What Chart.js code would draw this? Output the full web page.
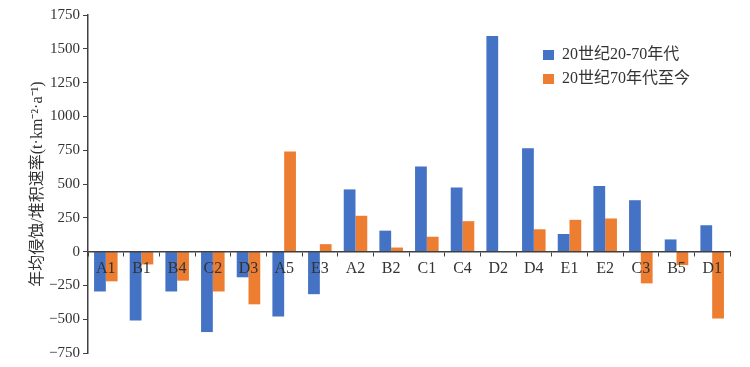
<!DOCTYPE html>
<html>
<head>
<meta charset="utf-8">
<script src="https://cdn.jsdelivr.net/npm/chart.js@4"></script>
<style>
  html, body { margin: 0; padding: 0; background: #fff; }
  #wrap { width: 750px; height: 367px; }
</style>
</head>
<body>
<div id="wrap"><canvas id="rateChart" width="750" height="367"></canvas></div>
<script>
// Sites along the x axis
const sites = ['A1', 'B1', 'B4', 'C2', 'D3', 'A5', 'E3', 'A2', 'B2', 'C1', 'C4', 'D2', 'D4', 'E1', 'E2', 'C3', 'B5', 'D1'];

// Mean annual erosion / deposition rate, t·km^-2·a^-1
const period1920s70s = [-295, -510, -295, -595, -190, -480, -315, 460, 155, 630, 475, 1595, 765, 130, 485, 380, 90, 195];
const period70sNow = [-220, -95, -215, -295, -390, 740, 55, 265, 30, 110, 225, 0, 165, 235, 245, -235, -100, -495];

const seriesNames = ['20世纪20-70年代', '20世纪70年代至今'];
const yTicks = { min: -750, max: 1750, step: 250 };

const serif = "'Liberation Serif', 'Times New Roman', 'Noto Sans CJK SC', serif";
const textColor = '#333333';
const axisColor = '#404040';

// legend drawn inside the plot, top right
const insideLegend = {
    id: 'insideLegend',
    afterDraw(chart) {
        const ctx = chart.ctx;
        ctx.save();
        ctx.font = '16px ' + serif;
        ctx.textBaseline = 'middle';
        chart.data.datasets.forEach((ds, i) => {
            const y = 55 + i * 24;
            ctx.fillStyle = ds.backgroundColor;
            ctx.fillRect(543, y - 5, 11, 10);
            ctx.fillStyle = textColor;
            ctx.fillText(ds.label, 562, y);
        });
        ctx.restore();
    }
};

const ctx = document.getElementById('rateChart').getContext('2d');
new Chart(ctx, {
    type: 'bar',
    data: {
        labels: sites,
        datasets: [{
            label: seriesNames[0],
            data: period1920s70s,
            backgroundColor: '#4472C4'
        }, {
            label: seriesNames[1],
            data: period70sNow,
            backgroundColor: '#ED7D31'
        }]
    },
    options: {
        responsive: false,
        animation: false,
        categoryPercentage: 0.66,
        barPercentage: 1.0,
        layout: {
            padding: { top: 15, right: 20, bottom: 14, left: 0 }
        },
        plugins: {
            legend: { display: false },
            tooltip: { enabled: false }
        },
        scales: {
            x: {
                position: { y: 0 },
                grid: {
                    offset: true,
                    drawOnChartArea: false,
                    tickLength: 4,
                    color: axisColor,
                    z: 1
                },
                border: { color: axisColor, width: 1.5, z: 1 },
                ticks: {
                    z: 1, // labels sit on top of the bars
                    color: textColor,
                    font: { family: serif, size: 16 },
                    padding: 4,
                    maxRotation: 0,
                    autoSkip: false
                }
            },
            y: {
                min: yTicks.min,
                max: yTicks.max,
                afterFit(scale) { scale.width = 88; },
                grid: {
                    drawOnChartArea: false,
                    tickLength: 5,
                    color: axisColor
                },
                border: { color: axisColor, width: 1.5 },
                ticks: {
                    stepSize: yTicks.step,
                    color: textColor,
                    font: { family: serif, size: 15 },
                    padding: 3,
                    callback: v => v < 0 ? '\u2212' + Math.abs(v) : String(v)
                },
                title: {
                    display: true,
                    text: '年均侵蚀/堆积速率(t·km⁻²·a⁻¹)',
                    color: textColor,
                    font: { family: serif, size: 16 },
                    padding: { top: 28, bottom: 0 }
                }
            }
        }
    },
    plugins: [insideLegend]
});
</script>
</body>
</html>
